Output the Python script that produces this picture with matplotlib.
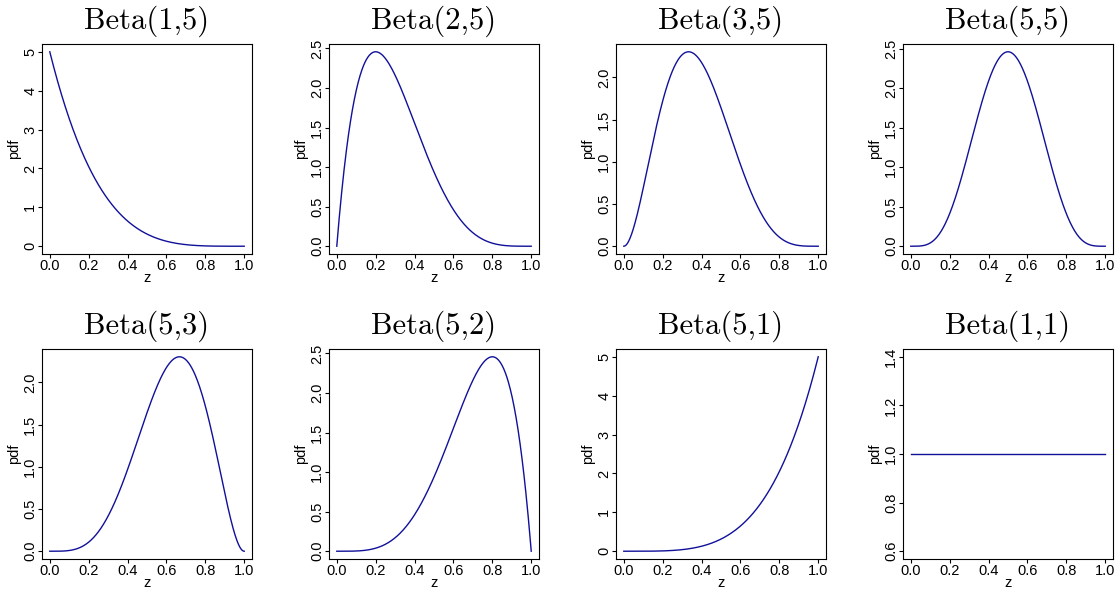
import math
import numpy as np
import matplotlib
matplotlib.use("Agg")
import matplotlib.pyplot as plt
from matplotlib.ticker import MultipleLocator

plt.rcParams['font.family'] = ['Liberation Sans', 'DejaVu Sans']

# Beta(a, b) shape parameters
alphas = [1, 2, 3, 5, 5, 5, 5, 1]
betas = [5, 5, 5, 5, 3, 2, 1, 1]
# spacing of the y tick marks in each panel
ytick_steps = [1, 0.5, 0.5, 0.5, 0.5, 0.5, 1, 0.2]
xtick_step = 0.2

z = np.linspace(0, 1, 401)


def beta_pdf(x, a, b):
    norm = math.gamma(a) * math.gamma(b) / math.gamma(a + b)
    return x ** (a - 1) * (1 - x) ** (b - 1) / norm


def r_limits(lo, hi):
    # R style axis range: 4% padding, constant data widened by 40%
    if hi == lo:
        lo, hi = lo - 0.4 * abs(lo), hi + 0.4 * abs(hi)
    pad = 0.04 * (hi - lo)
    return lo - pad, hi + pad


W, H = 1119, 593
fig = plt.figure(figsize=(W / 100, H / 100), dpi=100)

lefts = [42, 329, 616, 903]
tops = [44, 349]
size = 210

for i, (a, b) in enumerate(zip(alphas, betas)):
    row, col = divmod(i, 4)
    ax = fig.add_axes([lefts[col] / W, (H - tops[row] - size) / H, size / W, size / H])
    y = beta_pdf(z, a, b)
    ax.plot(z, y, color='#10109A', lw=1.0)

    ax.set_xlim(*r_limits(0, 1))
    ax.set_ylim(*r_limits(y.min(), y.max()))
    ax.xaxis.set_major_locator(MultipleLocator(xtick_step))
    ax.yaxis.set_major_locator(MultipleLocator(ytick_steps[i]))

    ax.tick_params(direction='out', length=3, width=0.8, pad=0.5, labelsize=10.5)
    ax.tick_params(axis='y', labelrotation=90)
    for lab in ax.get_yticklabels():
        lab.set_va('center')
    for sp in ax.spines.values():
        sp.set_linewidth(0.8)

    ax.set_xlabel('z', fontsize=10.5)
    ax.set_ylabel('pdf', fontsize=10.5)
    ax.xaxis.set_label_coords(0.5, -0.082)
    ax.yaxis.set_label_coords(-0.098, 0.5)

    ax.set_title(f'Beta({a},{b})', fontfamily='cmr10', fontsize=22, pad=11)

fig.savefig('out.png', dpi=100)
